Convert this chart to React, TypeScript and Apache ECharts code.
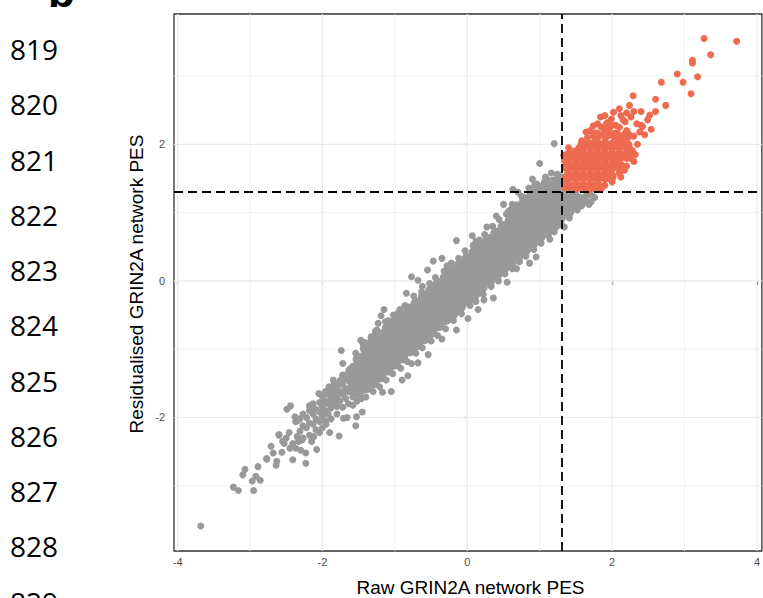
import React, { useEffect, useRef } from "react";
import * as echarts from "echarts";

// ---- axis / reference values ----
const xTicks = [-4, -2, 0, 2, 4];
const yTicks = [-2, 0, 2];
const xMinorGrid = [-3, -1, 1, 3];
const yMinorGrid = [-3, -1, 1, 3];
const xRange = [-4.05, 4.068];
const yRange = [-3.955, 3.908];
const threshold = 1.301;
const lineNumbers = [819, 820, 821, 822, 823, 824, 825, 826, 827, 828, 829];

const GREY = "#999999";
const RED = "#EE6A50";

// dense interior of the cloud (overlapping points read as solid mass)
const denseCore: [number, number][] = [
  [-1.6, -1.59], [-1.6, -1.45], [-1.6, -1.32],
  [-1.5, -1.58], [-1.5, -1.43], [-1.5, -1.28], [-1.5, -1.15],
  [-1.4, -1.56], [-1.4, -1.42], [-1.4, -1.28], [-1.4, -1.13], [-1.4, -0.99],
  [-1.3, -1.49], [-1.3, -1.34], [-1.3, -1.19], [-1.3, -1.04], [-1.3, -0.89],
  [-1.2, -1.4], [-1.2, -1.25], [-1.2, -1.1], [-1.2, -0.95], [-1.2, -0.8],
  [-1.1, -1.3], [-1.1, -1.15], [-1.1, -1.0], [-1.1, -0.85], [-1.1, -0.7],
  [-1.0, -1.21], [-1.0, -1.06], [-1.0, -0.91], [-1.0, -0.76], [-1.0, -0.61],
  [-0.9, -1.12], [-0.9, -0.97], [-0.9, -0.82], [-0.9, -0.67], [-0.9, -0.52],
  [-0.8, -1.02], [-0.8, -0.87], [-0.8, -0.72], [-0.8, -0.57], [-0.8, -0.42],
  [-0.7, -0.93], [-0.7, -0.78], [-0.7, -0.63], [-0.7, -0.48], [-0.7, -0.33],
  [-0.6, -0.84], [-0.6, -0.69], [-0.6, -0.54], [-0.6, -0.39], [-0.6, -0.24],
  [-0.5, -0.75], [-0.5, -0.6], [-0.5, -0.45], [-0.5, -0.3], [-0.5, -0.15],
  [-0.4, -0.65], [-0.4, -0.5], [-0.4, -0.35], [-0.4, -0.2], [-0.4, -0.05],
  [-0.3, -0.56], [-0.3, -0.41], [-0.3, -0.26], [-0.3, -0.11], [-0.3, 0.04],
  [-0.2, -0.47], [-0.2, -0.32], [-0.2, -0.17], [-0.2, -0.02], [-0.2, 0.13],
  [-0.1, -0.37], [-0.1, -0.22], [-0.1, -0.07], [-0.1, 0.08], [-0.1, 0.23],
  [0.0, -0.28], [0.0, -0.13], [0.0, 0.02], [0.0, 0.17], [0.0, 0.32],
  [0.1, -0.19], [0.1, -0.04], [0.1, 0.11], [0.1, 0.26], [0.1, 0.41],
  [0.2, -0.09], [0.2, 0.06], [0.2, 0.21], [0.2, 0.36], [0.2, 0.51],
  [0.3, 0.0], [0.3, 0.15], [0.3, 0.3], [0.3, 0.45], [0.3, 0.6],
  [0.4, 0.09], [0.4, 0.24], [0.4, 0.39], [0.4, 0.54], [0.4, 0.69],
  [0.5, 0.19], [0.5, 0.34], [0.5, 0.49], [0.5, 0.64], [0.5, 0.79],
  [0.6, 0.28], [0.6, 0.43], [0.6, 0.58], [0.6, 0.73], [0.6, 0.88], [0.6, 1.0],
  [0.7, 0.37], [0.7, 0.52], [0.7, 0.67], [0.7, 0.82], [0.7, 0.97], [0.7, 1.08],
  [0.8, 0.46], [0.8, 0.61], [0.8, 0.76], [0.8, 0.91], [0.8, 1.06], [0.8, 1.18],
  [0.9, 0.56], [0.9, 0.71], [0.9, 0.86], [0.9, 1.01], [0.9, 1.16], [0.9, 1.27],
  [1.0, 0.65], [1.0, 0.8], [1.0, 0.95], [1.0, 1.1], [1.0, 1.25], [1.0, 1.35],
  [1.1, 0.74], [1.1, 0.89], [1.1, 1.04], [1.1, 1.19], [1.1, 1.34], [1.1, 1.44],
  [1.2, 0.84], [1.2, 0.99], [1.2, 1.14], [1.2, 1.29], [1.2, 1.44],
  [1.28, 0.93], [1.28, 1.07], [1.28, 1.21], [1.28, 1.35], [1.28, 1.49],
  [1.4, 1.02], [1.4, 1.17], [1.5, 1.12], [1.5, 1.22], [1.6, 1.18],
  [1.4, 1.38], [1.5, 1.38], [1.6, 1.38], [1.7, 1.38], [1.8, 1.38],
  [1.4, 1.53], [1.5, 1.53], [1.6, 1.53], [1.7, 1.53], [1.8, 1.53], [1.9, 1.53], [1.98, 1.53],
  [1.4, 1.68], [1.5, 1.68], [1.6, 1.68], [1.7, 1.68], [1.8, 1.68], [1.9, 1.68], [2.0, 1.68], [2.1, 1.68],
  [1.4, 1.83], [1.5, 1.83], [1.6, 1.83], [1.7, 1.83], [1.8, 1.83], [1.9, 1.83], [2.0, 1.83], [2.1, 1.83], [2.2, 1.83],
  [1.6, 1.98], [1.7, 1.98], [1.8, 1.98], [1.9, 1.98], [2.0, 1.98], [2.1, 1.98], [2.2, 1.98],
  [1.78, 2.13], [1.92, 2.15], [2.05, 2.13], [2.2, 2.13], [1.95, 2.28],
];

// lower tail of the cloud
const tailPoints: [number, number][] = [
  [-3.68, -3.59], [-3.23, -3.02], [-3.16, -3.07], [-2.95, -3.07], [-3.1, -2.84], [-3.07, -2.76],
  [-2.97, -2.93], [-2.92, -2.86], [-2.86, -2.92], [-2.89, -2.72], [-2.77, -2.61], [-2.64, -2.7],
  [-2.63, -2.64], [-2.71, -2.42], [-2.6, -2.25], [-2.56, -2.51], [-2.53, -2.38], [-2.41, -2.62],
  [-2.46, -2.22], [-2.49, -1.88], [-2.44, -1.83], [-2.38, -1.99], [-2.37, -2.06], [-2.23, -2.52],
  [-2.23, -2.67], [-2.08, -2.47], [-2.41, -2.38], [-2.37, -2.45], [-2.28, -2.33], [-1.9, -2.22],
  [-1.77, -2.27], [-1.54, -2.12], [-1.71, -2.01], [-2.77, -2.6], [-2.6, -2.26], [-2.5, -2.3],
  [-2.45, -2.45], [-2.33, -2.35], [-2.3, -2.48], [-2.15, -2.35], [-2.12, -2.28], [-2.0, -2.15],
  [-1.95, -2.1], [-2.55, -2.35], [-2.68, -2.52],
  [-2.35, -2.05], [-2.35, -2.28], [-2.31, -2.2], [-2.31, -2.02], [-2.27, -2.12], [-2.27, -1.95],
  [-2.27, -2.3], [-2.22, -2.0], [-2.22, -2.15], [-2.18, -2.08], [-2.18, -1.9], [-2.18, -2.26],
  [-2.13, -1.95], [-2.13, -2.1], [-2.13, -1.8], [-2.09, -2.02], [-2.09, -1.88], [-2.09, -2.18],
  [-2.04, -1.92], [-2.04, -1.78], [-2.04, -2.06], [-2.04, -2.22], [-2.0, -1.84], [-2.0, -1.7],
  [-2.0, -1.98], [-1.96, -1.9], [-1.96, -1.76], [-1.96, -2.05], [-1.96, -1.62], [-1.92, -1.8],
  [-1.92, -1.66], [-1.92, -1.95], [-1.88, -1.72], [-1.88, -1.58], [-1.88, -1.86], [-1.88, -2.02],
  [-1.84, -1.78], [-1.84, -1.64], [-1.84, -1.5], [-1.8, -1.7], [-1.8, -1.56], [-1.8, -1.84],
  [-1.8, -1.95], [-1.76, -1.62], [-1.76, -1.48], [-1.76, -1.76], [-1.72, -1.66], [-1.72, -1.52],
  [-1.72, -1.38], [-1.72, -1.85], [-1.68, -1.58], [-1.68, -1.44], [-1.68, -1.72], [-1.64, -1.62],
  [-1.64, -1.35], [-1.64, -1.8], [-1.58, -1.7], [-1.58, -1.25], [-1.58, -1.82], [-1.52, -1.66],
  [-1.52, -1.76], [-1.52, -1.18], [-1.46, -1.72], [-1.46, -1.1], [-1.46, -1.62],
];

// points scattered above the main band
const upperPoints: [number, number][] = [
  [-1.74, -1.02], [-1.72, -1.21], [-1.85, -1.45], [-1.91, -1.55], [-2.05, -1.65], [-2.18, -1.83],
  [-2.16, -1.89], [-1.47, -0.87], [-1.44, -0.92], [-1.54, -1.06], [-1.27, -0.74], [-1.3, -0.82],
  [-1.23, -0.62], [-1.15, -0.42], [-1.19, -0.51], [-1.09, -0.58], [-1.04, -0.65], [-0.95, -0.46],
  [-0.84, -0.18], [-0.77, 0.06], [-0.68, 0.01], [-0.55, 0.16], [-0.47, 0.29], [-0.35, 0.33],
  [-0.15, 0.59], [0.07, 0.66], [0.27, 0.79], [0.5, 1.12], [0.63, 1.34], [0.9, 1.49], [0.93, 1.4],
  [0.98, 1.33], [1.0, 1.72], [1.2, 2.01], [1.26, 1.55],
  [-1.42, -0.9], [-1.33, -0.82], [-1.25, -0.72], [-1.13, -0.6], [-1.02, -0.5], [-0.93, -0.42],
  [-0.86, -0.36], [-0.74, -0.22], [-0.63, -0.16], [-0.52, -0.04], [-0.44, 0.05], [-0.32, 0.14],
  [-0.22, 0.26], [-0.12, 0.33], [-0.03, 0.44], [0.08, 0.52], [0.17, 0.6], [0.24, 0.68], [0.35, 0.8],
  [0.44, 0.9], [0.54, 0.98], [0.62, 1.12], [0.75, 1.24], [0.85, 1.36], [0.96, 1.42], [1.08, 1.52],
  [1.16, 1.58], [1.24, 1.56],
  [-0.62, -0.08], [-0.28, 0.22], [0.12, 0.58], [0.4, 0.95], [0.7, 1.3], [-0.98, -0.58],
];

// points scattered below the main band
const lowerPoints: [number, number][] = [
  [-1.05, -1.62], [-1.17, -1.63], [-0.82, -1.39], [-0.9, -1.45], [-0.77, -1.21], [-0.54, -1.08],
  [-0.15, -0.72], [0.01, -0.55], [0.23, -0.28], [0.36, -0.25], [0.68, 0.18], [0.86, 0.26],
  [1.0, 0.57], [1.14, 0.61], [1.23, 0.79], [1.34, 0.79], [1.41, 0.92], [1.52, 1.04], [1.48, 1.14],
  [1.71, 1.16], [1.62, 1.23], [-1.75, -1.45], [-1.53, -1.99], [-1.45, -1.92], [-1.66, -2.0],
  [-1.4, -1.7], [-1.3, -1.62], [-1.21, -1.55], [-1.12, -1.45], [-1.03, -1.36], [-0.92, -1.28],
  [-0.83, -1.18], [-0.71, -1.06], [-0.62, -0.98], [-0.5, -0.88], [-0.41, -0.8], [-0.3, -0.7],
  [-0.19, -0.58], [-0.08, -0.48], [0.04, -0.36], [0.12, -0.3], [0.22, -0.2], [0.33, -0.08],
  [0.43, 0.0], [0.52, 0.1], [0.62, 0.18], [0.72, 0.28], [0.81, 0.36], [0.92, 0.46], [1.02, 0.55],
  [1.12, 0.66], [1.2, 0.72], [1.3, 0.82],
  [1.36, 1.25], [1.45, 1.27], [1.55, 1.2], [1.66, 1.26], [1.72, 1.25], [1.42, 1.05], [1.58, 1.1],
  [1.68, 1.12], [1.76, 1.22],
  [-0.35, -0.85], [0.15, -0.42], [0.55, -0.02], [-0.68, -1.2], [0.95, 0.35],
];

// upper-right cluster (beyond both thresholds)
const topPoints: [number, number][] = [
  [3.27, 3.55], [3.72, 3.51], [3.36, 3.31], [3.11, 3.23], [3.11, 3.19], [2.9, 3.03], [2.98, 2.91],
  [3.18, 2.99], [3.09, 2.74], [2.68, 2.91], [2.6, 2.66], [2.74, 2.57], [2.29, 2.71], [2.24, 2.57],
  [2.3, 2.48], [2.4, 2.48], [2.6, 2.48], [2.52, 2.43], [2.49, 2.36], [2.54, 2.22], [2.42, 2.26],
  [2.4, 2.28], [1.84, 2.4], [1.99, 2.37], [2.18, 2.33], [2.26, 2.4], [1.64, 2.18], [1.66, 2.1],
  [1.54, 1.95], [1.33, 1.84], [1.34, 1.76], [1.8, 1.43], [1.94, 1.5], [2.1, 1.58], [2.17, 1.62],
  [2.28, 1.91], [2.05, 1.82], [2.07, 1.72], [1.66, 1.32],
  [1.75, 2.15], [1.85, 2.25], [1.95, 2.2], [2.05, 2.28], [2.12, 2.42], [2.2, 2.2], [2.3, 2.12],
  [2.35, 2.0], [1.9, 2.05], [2.15, 2.05], [1.7, 2.02], [1.48, 1.9], [1.4, 1.95], [2.25, 1.8],
  [2.32, 1.85], [2.2, 1.68], [2.12, 1.52], [1.9, 1.4], [1.85, 1.35], [2.0, 1.45], [1.35, 1.5],
  [1.35, 1.65], [1.35, 1.38], [2.3, 1.75], [1.58, 2.05], [1.95, 2.32], [2.1, 2.25],
  [1.8, 2.3], [1.9, 2.42], [2.02, 2.47], [2.1, 2.52], [2.2, 2.46], [1.74, 2.27], [2.15, 2.36],
  [2.34, 2.3], [2.38, 2.18], [2.45, 2.14], [1.7, 2.2],
];

const scatterPoints = [...tailPoints, ...upperPoints, ...lowerPoints, ...topPoints];

// grid lines: [value, 0 = vertical / 1 = horizontal, 0 = minor / 1 = major]
const gridLineData = [
  ...xMinorGrid.map((v) => [v, 0, 0]),
  ...yMinorGrid.map((v) => [v, 1, 0]),
  ...xTicks.map((v) => [v, 0, 1]),
  ...yTicks.map((v) => [v, 1, 1]),
];

const colorOf = (p: any) =>
  p.value[0] > threshold && p.value[1] > threshold ? RED : GREY;

export default function App() {
  const ref = useRef<HTMLDivElement>(null);

  useEffect(() => {
    document.body.style.margin = "0";
    const chart = echarts.init(ref.current!, undefined, { renderer: "svg" });

    const numberTexts = lineNumbers.map((n, i) => ({
      type: "text",
      x: 10,
      y: 49 + i * 55.25,
      silent: true,
      style: {
        text: String(n),
        fill: "#000000",
        fontSize: 28,
        fontFamily: "Open Sans",
        align: "left",
        verticalAlign: "middle",
        textAlign: "left",
        textVerticalAlign: "middle",
      },
    }));

    const option: any = {
      animation: false,
      grid: {
        left: 174,
        top: 14,
        width: 591,
        height: 537,
        show: true,
        borderColor: "#333333",
        borderWidth: 1.3,
        backgroundColor: "rgba(0,0,0,0)",
        containLabel: false,
      },
      xAxis: {
        type: "value",
        min: xRange[0],
        max: xRange[1],
        splitLine: { show: false },
        axisLine: { show: false },
        axisTick: {
          show: true,
          customValues: xTicks,
          length: 4,
          lineStyle: { color: "#333333", width: 1.2 },
        },
        axisLabel: {
          customValues: xTicks,
          color: "#4D4D4D",
          fontSize: 11,
          fontFamily: "Liberation Sans",
          margin: 5,
        },
      },
      yAxis: {
        type: "value",
        min: yRange[0],
        max: yRange[1],
        splitLine: { show: false },
        axisLine: { show: false },
        axisTick: {
          show: true,
          customValues: yTicks,
          length: 4,
          lineStyle: { color: "#333333", width: 1.2 },
        },
        axisLabel: {
          customValues: yTicks,
          color: "#4D4D4D",
          fontSize: 11,
          fontFamily: "Liberation Sans",
          margin: 9,
        },
      },
      series: [
        {
          type: "custom",
          z: 1,
          silent: true,
          clip: false,
          data: gridLineData,
          renderItem: (_params: any, api: any) => {
            const v = api.value(0);
            const horizontal = api.value(1) === 1;
            const major = api.value(2) === 1;
            const p1 = horizontal ? api.coord([xRange[0], v]) : api.coord([v, yRange[0]]);
            const p2 = horizontal ? api.coord([xRange[1], v]) : api.coord([v, yRange[1]]);
            return {
              type: "line",
              shape: { x1: p1[0], y1: p1[1], x2: p2[0], y2: p2[1] },
              style: {
                stroke: major ? "#EBEBEB" : "#F2F2F2",
                lineWidth: major ? 1.2 : 0.9,
              },
            };
          },
        },
        {
          type: "scatter",
          data: denseCore,
          z: 2,
          symbolSize: 12,
          silent: true,
          itemStyle: { color: colorOf, opacity: 1 },
        },
        {
          type: "scatter",
          data: scatterPoints,
          z: 3,
          symbolSize: 7,
          silent: true,
          itemStyle: { color: colorOf, opacity: 1 },
        },
        {
          type: "scatter",
          data: [],
          z: 5,
          silent: true,
          markLine: {
            silent: true,
            symbol: ["none", "none"],
            label: { show: false },
            animation: false,
            data: [
              { xAxis: threshold, lineStyle: { color: "#000000", width: 1.8, type: [9, 5] } },
              { yAxis: threshold, lineStyle: { color: "#000000", width: 1.8, type: [9, 5] } },
            ],
          },
        },
      ],
      graphic: [
        ...numberTexts,
        {
          type: "text",
          x: 48,
          y: -9,
          silent: true,
          style: {
            text: "b",
            fill: "#000000",
            fontSize: 44,
            fontWeight: "bold",
            fontFamily: "Liberation Sans",
            align: "left",
            verticalAlign: "middle",
            textAlign: "left",
            textVerticalAlign: "middle",
          },
        },
        {
          type: "text",
          x: 470.5,
          y: 587,
          silent: true,
          style: {
            text: "Raw GRIN2A network PES",
            fill: "#000000",
            fontSize: 19,
            fontFamily: "Liberation Sans",
            align: "center",
            verticalAlign: "middle",
            textAlign: "center",
            textVerticalAlign: "middle",
          },
        },
        {
          type: "text",
          x: 136,
          y: 284,
          rotation: Math.PI / 2,
          silent: true,
          style: {
            text: "Residualised GRIN2A network PES",
            fill: "#000000",
            fontSize: 19,
            fontFamily: "Liberation Sans",
            align: "center",
            verticalAlign: "middle",
            textAlign: "center",
            textVerticalAlign: "middle",
          },
        },
      ],
    };

    chart.setOption(option);
    return () => chart.dispose();
  }, []);

  return (
    <div
      ref={ref}
      style={{ position: "fixed", left: 0, top: 0, width: 763, height: 598, background: "#ffffff" }}
    />
  );
}
